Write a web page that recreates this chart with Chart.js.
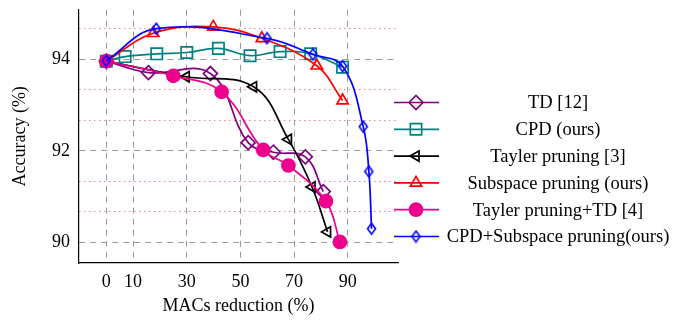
<!DOCTYPE html>
<html>
<head>
<meta charset="utf-8">
<script src="https://cdn.jsdelivr.net/npm/chart.js@4.4.1/dist/chart.umd.min.js"></script>
<style>
  html, body { margin: 0; padding: 0; background: #fff; }
</style>
</head>
<body>
<canvas id="acc-chart" width="698" height="324"></canvas>
<script>
'use strict';

// axis ticks
const xTicks = [0, 10, 30, 50, 70, 90];
const yMajor = [90, 92, 94];
const yMinor = [90.667, 91.333, 92.667, 93.333, 94.667];

// series (MACs reduction %, accuracy %)
const tdX = [0, 15.7, 38.8, 52.9, 62.3, 74.2, 80.9];
const tdY = [93.96, 93.71, 93.69, 92.18, 91.97, 91.87, 91.11];

const cpdX = [0, 7, 18.8, 30, 41.8, 53.6, 64.8, 76.2, 88.1];
const cpdY = [93.96, 94.06, 94.12, 94.15, 94.24, 94.08, 94.17, 94.12, 93.83];

const taylerX = [0, 29.8, 54.9, 67.9, 76.7, 82.5];
const taylerY = [93.96, 93.62, 93.4, 92.25, 91.21, 90.23];

const subspaceX = [0, 17.5, 39.9, 58, 78.5, 88.1];
const subspaceY = [93.96, 94.57, 94.71, 94.46, 93.86, 93.1];

const taylerTdX = [0, 25, 43, 58.5, 67.9, 81.9, 87.1];
const taylerTdY = [93.96, 93.64, 93.29, 92.02, 91.68, 90.9, 90.01];

const cpdSubX = [0, 18.6, 59.9, 77, 88.1, 95.8, 97.9, 98.9];
const cpdSubY = [93.97, 94.67, 94.46, 94.11, 93.85, 92.53, 91.55, 90.3];

const FONT = '"Liberation Serif", "Times New Roman", serif';

function tallDiamond(color, w, h, lw) {
    const c = document.createElement('canvas');
    c.width = w + lw * 2;
    c.height = h + lw * 2;
    const g = c.getContext('2d');
    const cx = c.width / 2, cy = c.height / 2;
    g.strokeStyle = color;
    g.lineWidth = lw;
    g.beginPath();
    g.moveTo(cx, cy - h / 2);
    g.lineTo(cx + w / 2, cy);
    g.lineTo(cx, cy + h / 2);
    g.lineTo(cx - w / 2, cy);
    g.closePath();
    g.stroke();
    return c;
}

function series(label, xs, ys, color, style) {
    return Object.assign({
        label: label,
        data: xs.map((x, i) => ({ x: x, y: ys[i] })),
        borderColor: color,
        borderWidth: 1.7,
        pointBorderColor: color,
        pointBackgroundColor: 'rgba(0,0,0,0)',
        pointBorderWidth: 1.7,
        pointRotation: 0,
        tension: 0.4,
        fill: false
    }, style);
}

const datasets = [
    series('TD [12]', tdX, tdY, '#800080', { pointStyle: 'rectRot', pointRadius: 7, order: 6 }),
    series('CPD (ours)', cpdX, cpdY, '#008080', { pointStyle: 'rect', pointRadius: 8, order: 5 }),
    series('Tayler pruning [3]', taylerX, taylerY, '#000000', { pointStyle: 'triangle', pointRadius: 6, pointRotation: -90, order: 4 }),
    series('Subspace pruning (ours)', subspaceX, subspaceY, '#ff0000', { pointStyle: 'triangle', pointRadius: 6.5, order: 3 }),
    series('Tayler pruning+TD [4]', taylerTdX, taylerTdY, '#ec008c', { pointStyle: 'circle', pointRadius: 6.5, pointBackgroundColor: '#ec008c', order: 2 }),
    series('CPD+Subspace pruning(ours)', cpdSubX, cpdSubY, '#0000ff', { pointStyle: tallDiamond('#0000ff', 8, 11, 1.6), pointRadius: 6, order: 1 })
];

function isMajor(v) {
    return yMajor.some(m => Math.abs(m - v) < 1e-6);
}

// legend drawn at the right, text centred like the original
const sideLegend = {
    id: 'sideLegend',
    afterDraw(chart) {
        const ctx = chart.ctx;
        const lineX0 = 394, lineX1 = 439, markX = 416, textX = 558;
        const top = 102.5, step = 26.8;
        ctx.save();
        chart.data.datasets.forEach((ds, i) => {
            const y = top + i * step;
            ctx.strokeStyle = ds.borderColor;
            ctx.lineWidth = ds.borderWidth;
            ctx.setLineDash([]);
            ctx.beginPath();
            ctx.moveTo(lineX0, y);
            ctx.lineTo(lineX1, y);
            ctx.stroke();
            ctx.fillStyle = ds.pointBackgroundColor;
            ctx.strokeStyle = ds.pointBorderColor;
            ctx.lineWidth = ds.pointBorderWidth;
            Chart.helpers.drawPoint(ctx, {
                pointStyle: ds.pointStyle,
                radius: ds.pointRadius,
                rotation: ds.pointRotation,
                borderWidth: ds.pointBorderWidth
            }, markX, y);
            ctx.fillStyle = '#000';
            ctx.font = '18.5px ' + FONT;
            ctx.textAlign = 'center';
            ctx.textBaseline = 'middle';
            ctx.fillText(ds.label, textX, y + 1);
        });
        ctx.restore();
    }
};

new Chart(document.getElementById('acc-chart').getContext('2d'), {
    type: 'line',
    data: { datasets: datasets },
    options: {
        responsive: false,
        animation: false,
        clip: false,
        layout: { padding: { top: 5, right: 300, left: 0, bottom: 0 } },
        plugins: {
            legend: { display: false },
            tooltip: { enabled: false }
        },
        scales: {
            x: {
                type: 'linear',
                min: -10.18,
                max: 108.76,
                afterFit(s) {
                    s.height = 61;
                    s.paddingLeft = 0;
                    s.paddingRight = 0;
                },
                afterBuildTicks(s) { s.ticks = xTicks.map(v => ({ value: v })); },
                ticks: {
                    autoSkip: false,
                    maxRotation: 0,
                    padding: 8,
                    color: '#000',
                    font: { family: FONT, size: 18 }
                },
                grid: { color: '#9a9a9a', lineWidth: 1, drawTicks: false },
                border: { color: '#000', width: 1.2, dash: (c) => c.tick ? [6, 5] : [] },
                title: {
                    display: true,
                    text: 'MACs reduction (%)',
                    color: '#000',
                    font: { family: FONT, size: 18 },
                    padding: { top: 0, bottom: 7 }
                }
            },
            y: {
                type: 'linear',
                min: 89.55,
                max: 95.085,
                afterFit(s) {
                    s.width = 79;
                    s.paddingTop = 0;
                    s.paddingBottom = 0;
                },
                afterBuildTicks(s) {
                    s.ticks = yMajor.concat(yMinor).sort((a, b) => a - b).map(v => ({ value: v }));
                },
                ticks: {
                    autoSkip: false,
                    padding: 0,
                    color: '#000',
                    font: { family: FONT, size: 18 },
                    callback: (v) => isMajor(v) ? String(Math.round(v)) : ''
                },
                grid: {
                    drawTicks: true,
                    tickLength: 9,
                    tickColor: 'rgba(0,0,0,0)',
                    lineWidth: 1,
                    color: (c) => (c.tick && isMajor(c.tick.value)) ? '#9a9a9a' : '#f06060'
                },
                border: {
                    color: '#000',
                    width: 1.2,
                    dash: (c) => c.tick ? (isMajor(c.tick.value) ? [6, 5] : [1.2, 3.8]) : []
                },
                title: {
                    display: true,
                    text: 'Accuracy (%)',
                    color: '#000',
                    font: { family: FONT, size: 18 },
                    padding: { top: 9, bottom: 0 }
                }
            }
        }
    },
    plugins: [sideLegend]
});
</script>
</body>
</html>
